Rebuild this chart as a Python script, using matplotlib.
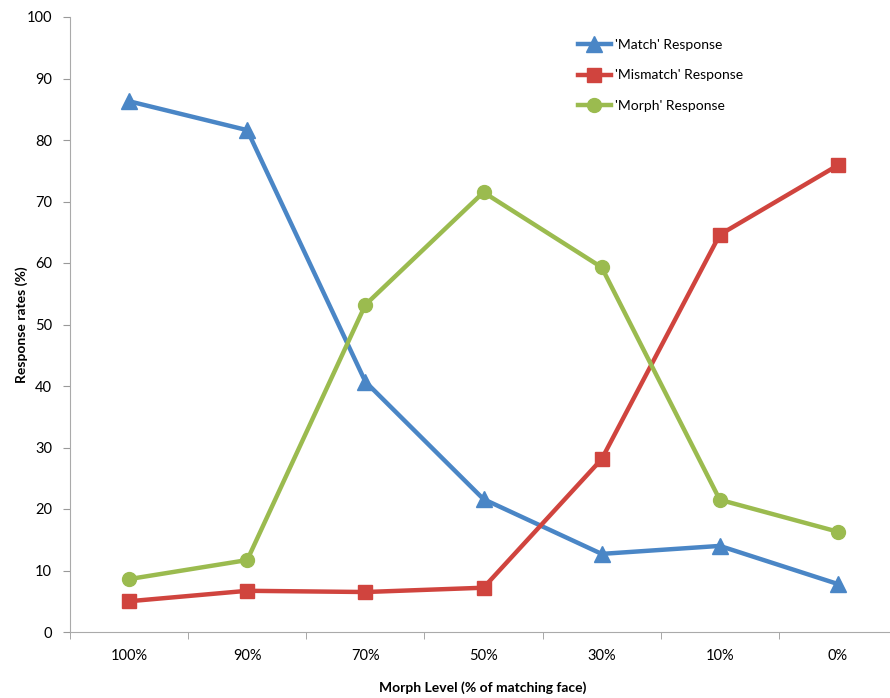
import matplotlib
matplotlib.use("Agg")
import matplotlib.pyplot as plt
import numpy as np

categories = ["100%", "90%", "70%", "50%", "30%", "10%", "0%"]
match = [86.3, 81.6, 40.7, 21.6, 12.7, 14.0, 7.8]
mismatch = [5.0, 6.7, 6.5, 7.2, 28.1, 64.6, 75.9]
morph = [8.6, 11.7, 53.2, 71.5, 59.3, 21.5, 16.3]

plt.rcParams['font.family'] = ['Lato', 'DejaVu Sans']

fig = plt.figure(figsize=(8.9, 6.98), dpi=100)
ax = fig.add_axes([70/890, 66/698, 827/890, 615/698])

x = np.arange(len(categories))
ax.plot(x, match, color='#4A86C6', lw=3.2, marker='^', ms=11, label="'Match' Response")
ax.plot(x, mismatch, color='#D0443E', lw=3.2, marker='s', ms=10, label="'Mismatch' Response")
ax.plot(x, morph, color='#9BBB4F', lw=3.2, marker='o', ms=10, label="'Morph' Response")

ax.set_xlim(-0.5, 6.5)
ax.set_ylim(0, 100)
ax.set_yticks(np.arange(0, 101, 10))
ax.set_xticks(x)
ax.set_xticklabels(categories)
ax.set_xticks(np.arange(-0.5, 6.6, 1), minor=True)
ax.tick_params(axis='x', which='major', length=0, pad=12, labelsize=10.5)
ax.tick_params(axis='x', which='minor', length=5, color='#999999')
ax.tick_params(axis='y', length=5, color='#999999', labelsize=10.5, pad=8)

for s in ['top', 'right']:
    ax.spines[s].set_visible(False)
for s in ['left', 'bottom']:
    ax.spines[s].set_color('#AAAAAA')

ax.set_xlabel("Morph Level (% of matching face)", fontweight='bold', fontsize=10)
ax.set_ylabel("Response rates (%)", fontweight='bold', fontsize=10)
ax.xaxis.set_label_coords((483 - 70) / 827, -(681 - 632) / 615)
ax.yaxis.set_label_coords(-(70 - 28) / 827, 0.5)

ax.legend(loc='upper left', bbox_to_anchor=(495/827, 0.985), frameon=False, fontsize=10,
          handlelength=2.4, labelspacing=1.35, handletextpad=0.3)

fig.savefig("out.png", dpi=100)
